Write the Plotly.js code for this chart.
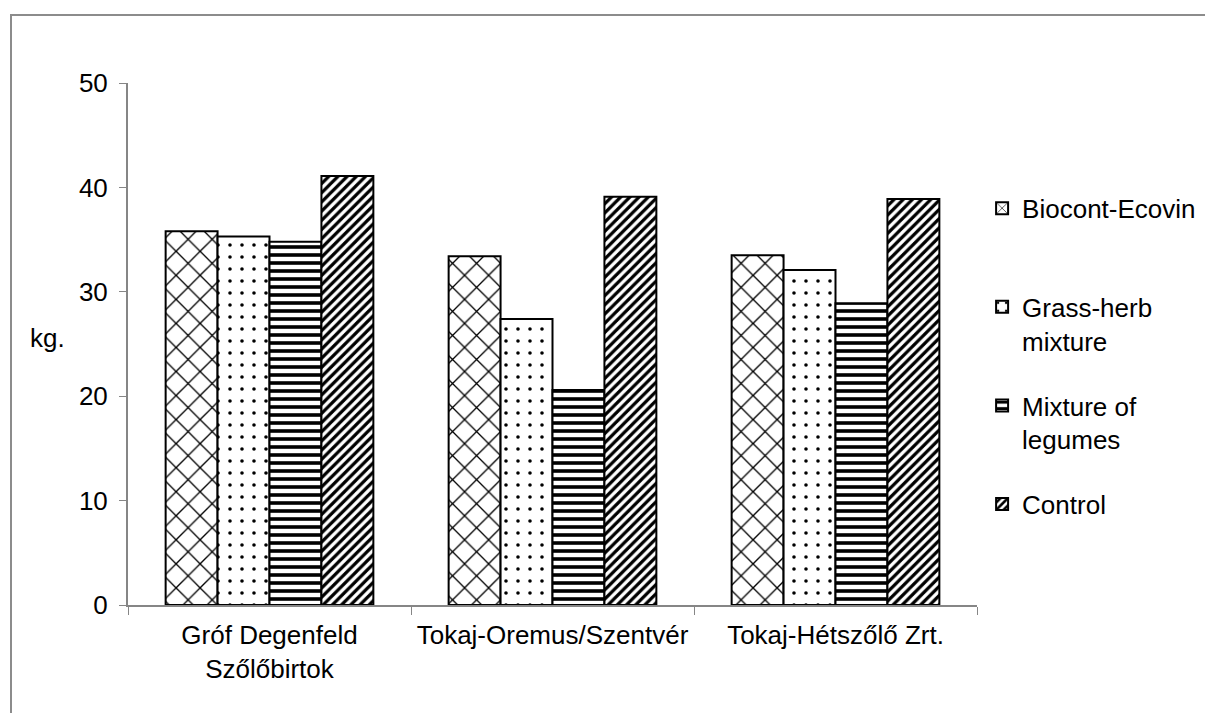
<!DOCTYPE html>
<html>
<head>
<meta charset="utf-8">
<script src="https://cdn.plot.ly/plotly-3.0.1.min.js"></script>
<style>html,body{margin:0;padding:0;background:#fff;}#chart{width:1205px;height:713px;}</style>
</head>
<body>
<div id="chart"></div>
<script>
const categories = ["Gróf Degenfeld<br>Szőlőbirtok", "Tokaj-Oremus/Szentvér", "Tokaj-Hétszőlő Zrt."];
const seriesNames = ["Biocont-Ecovin<br> ", "Grass-herb<br>mixture", "Mixture of<br>legumes", "Control"];
const biocont = [35.8, 33.4, 33.5];
const grassHerb = [35.3, 27.4, 32.1];
const legumes = [34.8, 20.6, 28.9];
const control = [41.1, 39.1, 38.9];
const yTicks = [0, 10, 20, 30, 40, 50];

const patterns = [
  {shape: "x", size: 17, solidity: 0.15},
  {shape: ".", size: 12, solidity: 0.07},
  {shape: "-", size: 8, solidity: 0.45},
  {shape: "/", size: 6.5, solidity: 0.5}
];
const values = [biocont, grassHerb, legumes, control];

const traces = values.map((v, i) => ({
  type: "bar",
  x: categories,
  y: v,
  name: seriesNames[i],
  legendgroup: "g" + i,
  marker: {
    color: "white",
    line: {color: "black", width: 2},
    pattern: {shape: patterns[i].shape, size: patterns[i].size, solidity: patterns[i].solidity,
              fgcolor: "black", bgcolor: "white", fillmode: "replace"}
  },
  hoverinfo: "skip"
}));

const font = {family: "Liberation Sans, Arial, sans-serif", size: 26, color: "black"};
const layout = {
  width: 1205, height: 713,
  margin: {l: 128, r: 228, t: 83, b: 108, autoexpand: false},
  paper_bgcolor: "white", plot_bgcolor: "white",
  font: font,
  barmode: "group", bargap: 0.266, bargroupgap: 0,
  showlegend: true,
  legend: {x: 1.006, xanchor: "left", y: 0.805, yanchor: "top", valign: "top",
           font: font, tracegroupgap: 28, bgcolor: "rgba(0,0,0,0)"},
  xaxis: {
    type: "category", tickson: "boundaries", ticks: "outside", ticklen: 8, tickcolor: "#868686",
    showline: true, linecolor: "#868686", linewidth: 2, showgrid: false, tickfont: font,
    zeroline: false, ticklabelstandoff: 6, tickangle: 0, automargin: false
  },
  yaxis: {
    range: [0, 50], tickvals: yTicks, ticks: "outside", ticklen: 7, tickcolor: "#868686",
    showline: true, linecolor: "#868686", linewidth: 2, showgrid: false, zeroline: false,
    tickfont: font, ticklabelstandoff: 6, automargin: false
  },
  annotations: [{text: "kg.", xref: "paper", yref: "paper", x: -0.0954, y: 0.511,
                 showarrow: false, font: font, xanchor: "center", yanchor: "middle"}],
  shapes: [{type: "rect", xref: "paper", yref: "paper",
            x0: (11 - 128) / 849, x1: (1210 - 128) / 849,
            y0: (605 - 720) / 522, y1: (605 - 15) / 522,
            line: {color: "#8c8c8c", width: 2}, fillcolor: "rgba(0,0,0,0)", layer: "below"}]
};

Plotly.newPlot("chart", traces, layout, {displayModeBar: false, staticPlot: true});
</script>
</body>
</html>
